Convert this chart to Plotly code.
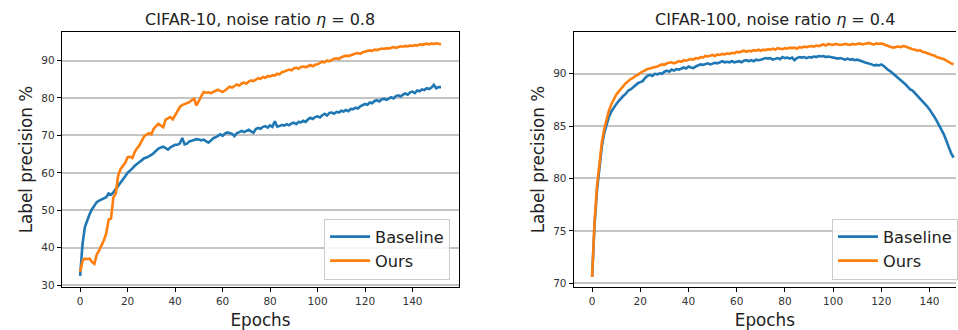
import plotly.graph_objects as go

# ---- label precision per epoch ----
cifar10_epochs = list(range(153))
cifar10_baseline = [
    32.5, 41.0, 45.5, 47.5, 49.0, 50.3, 51.3, 52.2, 52.6, 52.9,
    53.1, 53.5, 54.5, 54.2, 54.8, 55.6, 56.4, 57.3, 58.2, 59.1,
    60.0, 60.5, 61.2, 61.9, 62.5, 62.9, 63.4, 63.9, 64.1, 64.4,
    64.8, 65.3, 65.9, 66.5, 66.8, 67.0, 66.6, 66.2, 66.8, 67.2,
    67.5, 67.5, 67.9, 69.3, 67.6, 67.8, 68.4, 68.6, 68.9, 69.0,
    68.9, 68.7, 68.9, 68.4, 68.1, 68.6, 69.2, 69.5, 69.9, 70.3,
    69.9, 70.5, 70.8, 70.6, 70.4, 69.8, 70.6, 70.9, 71.2, 70.9,
    71.3, 71.5, 71.1, 70.7, 71.7, 72.0, 71.8, 72.3, 72.5, 72.1,
    72.7, 72.3, 73.8, 72.4, 72.5, 72.8, 72.6, 73.0, 72.7, 73.2,
    73.4, 73.0, 73.6, 73.5, 73.9, 73.6, 74.3, 74.7, 74.4, 74.9,
    75.1, 74.8, 75.4, 75.8, 75.3, 76.0, 76.1, 75.8, 76.3, 76.1,
    76.6, 76.4, 76.8, 76.5, 77.1, 77.0, 77.4, 77.2, 77.8, 78.1,
    78.4, 78.2, 78.8, 78.6, 79.2, 79.4, 79.1, 79.6, 79.8, 79.5,
    79.9, 80.2, 79.9, 80.5, 80.7, 80.4, 80.9, 81.2, 80.9, 81.5,
    81.7, 81.3, 82.0, 81.8, 82.3, 82.1, 82.6, 82.4, 82.8, 83.5,
    82.6, 82.9, 82.9,
]
cifar10_ours = [
    33.5, 36.5, 37.1, 37.0, 37.1, 36.2, 35.7, 38.2, 39.3, 40.5,
    42.0, 43.8, 47.5, 47.8, 53.5, 54.5, 59.2, 61.0, 61.8, 62.7,
    64.2, 64.3, 64.0, 65.6, 66.6, 67.4, 68.6, 69.8, 70.2, 70.6,
    70.3, 71.8, 72.5, 73.1, 72.6, 72.2, 74.2, 74.6, 74.9, 74.3,
    75.4, 76.5, 77.6, 78.1, 78.3, 78.5, 78.9, 79.4, 79.8, 78.0,
    79.2, 80.6, 81.6, 81.4, 81.5, 81.3, 81.6, 81.8, 82.2, 81.9,
    81.6, 82.0, 82.6, 83.0, 82.8, 83.2, 83.6, 83.3, 83.9, 84.1,
    83.8, 84.4, 84.7, 84.5, 84.9, 85.3, 85.1, 85.6, 85.4, 85.9,
    85.7, 86.1, 86.0, 86.5, 86.3, 86.9, 87.1, 87.3, 87.6, 87.4,
    87.9, 88.1, 87.8, 88.3, 88.4, 88.2, 88.6, 88.8, 88.5, 88.9,
    89.0, 89.4, 89.7, 89.5, 90.0, 89.8, 90.2, 90.5, 90.6, 90.4,
    90.9, 91.1, 91.3, 91.2, 91.5, 91.7, 91.9, 92.0, 91.8, 92.2,
    92.4, 92.5, 92.7, 92.6, 92.9, 92.8, 93.0, 93.2, 93.1, 93.3,
    93.2, 93.4, 93.6, 93.4, 93.6, 93.8, 93.7, 93.9, 93.8, 94.0,
    93.9, 94.1, 94.0, 94.3, 94.2, 94.4, 94.5, 94.3, 94.6, 94.4,
    94.6, 94.5, 94.3,
]

cifar100_epochs = list(range(151))
cifar100_baseline = [
    70.6, 75.5, 78.8, 81.2, 83.0, 84.3, 85.2, 85.9, 86.4, 86.8,
    87.1, 87.4, 87.7, 87.9, 88.1, 88.4, 88.5, 88.7, 88.9, 89.1,
    89.2, 89.3, 89.6, 89.8, 89.9, 89.8, 90.0, 89.95, 90.05, 90.0,
    90.2, 90.3, 90.2, 90.4, 90.3, 90.45, 90.4, 90.5, 90.6, 90.5,
    90.7, 90.6, 90.55, 90.7, 90.8, 90.9, 90.85, 90.9, 91.0, 90.9,
    91.0, 91.05, 91.0, 91.1, 91.2, 91.1, 91.15, 91.1, 91.2, 91.1,
    91.15, 91.2, 91.1, 91.25, 91.3, 91.2, 91.3, 91.2, 91.35, 91.3,
    91.35, 91.4, 91.5, 91.45, 91.5, 91.35, 91.45, 91.5, 91.4, 91.6,
    91.5, 91.55, 91.45, 91.55, 91.3, 91.5, 91.6, 91.55, 91.6, 91.5,
    91.6, 91.55, 91.65, 91.6, 91.7, 91.65, 91.7, 91.6, 91.65, 91.6,
    91.55, 91.5, 91.45, 91.5, 91.4, 91.35, 91.45, 91.35, 91.4, 91.3,
    91.35, 91.3, 91.2, 91.1, 91.05, 90.95, 90.9, 90.8, 90.85, 90.8,
    90.9, 90.75, 90.5, 90.35, 90.2, 90.0, 89.8, 89.6, 89.45, 89.2,
    89.0, 88.75, 88.5, 88.4, 88.15, 87.9, 87.75, 87.45, 87.2, 86.9,
    86.6, 86.3, 85.9, 85.5, 85.1, 84.7, 84.2, 83.6, 83.0, 82.4,
    82.0,
]
cifar100_ours = [
    70.6, 75.8, 79.2, 81.6, 83.4, 84.7, 85.6, 86.5, 87.1, 87.6,
    88.0, 88.3, 88.6, 88.8, 89.1, 89.3, 89.5, 89.6, 89.8, 89.9,
    90.1, 90.2, 90.35, 90.45, 90.5, 90.6, 90.65, 90.7, 90.8, 90.9,
    90.85, 91.0, 91.05, 91.1, 91.0, 91.1, 91.2, 91.15, 91.3, 91.25,
    91.35, 91.4, 91.35, 91.5, 91.45, 91.6, 91.55, 91.7, 91.65, 91.7,
    91.8, 91.7, 91.85, 91.8, 91.9, 91.85, 91.95, 91.9, 92.0, 91.95,
    92.1, 92.05, 92.1, 92.2, 92.1, 92.2, 92.15, 92.25, 92.2, 92.3,
    92.2, 92.3, 92.25, 92.35, 92.3, 92.4, 92.3, 92.45, 92.4, 92.35,
    92.45, 92.4, 92.5, 92.45, 92.5, 92.4, 92.55, 92.5, 92.6, 92.55,
    92.6, 92.65, 92.6, 92.7, 92.65, 92.75, 92.8, 92.7, 92.85, 92.8,
    92.75, 92.85, 92.8, 92.75, 92.8, 92.85, 92.8, 92.75, 92.85, 92.8,
    92.85, 92.9, 92.8, 92.85, 92.9, 92.95, 92.85, 92.8, 92.9, 92.85,
    92.9, 92.8, 92.7, 92.6, 92.55, 92.5, 92.55, 92.6, 92.55, 92.65,
    92.6, 92.5, 92.4, 92.35, 92.3, 92.2, 92.25, 92.1, 92.05, 92.0,
    91.9, 91.8, 91.75, 91.6, 91.55, 91.45, 91.4, 91.25, 91.1, 91.0,
    90.9,
]

panel_titles = ["CIFAR-10, noise ratio <i>η</i> = 0.8",
                "CIFAR-100, noise ratio <i>η</i> = 0.4"]
series_names = ["Baseline", "Ours"]
x_ticks = [0, 20, 40, 60, 80, 100, 120, 140]
y_ticks_left = [30, 40, 50, 60, 70, 80, 90]
y_ticks_right = [70, 75, 80, 85, 90]

BLUE = "#1f77b4"
ORANGE = "#ff7f0e"
FONT = "DejaVu Sans"
W, H = 958, 330

fig = go.Figure()

panels = [
    ("x", "y", "legend", cifar10_epochs, cifar10_baseline, cifar10_ours),
    ("x2", "y2", "legend2", cifar100_epochs, cifar100_baseline, cifar100_ours),
]
for xa, ya, lg, ep, base, ours in panels:
    for name, vals, col in zip(series_names, [base, ours], [BLUE, ORANGE]):
        fig.add_trace(go.Scatter(
            x=ep, y=vals, mode="lines", name=name,
            line=dict(color=col, width=2.6),
            xaxis=xa, yaxis=ya, legend=lg,
        ))

# axes placed by pixel boxes
def px_dom_x(a, b):
    return [a / W, min(b / W, 1.0)]

def px_dom_y(top, bottom):
    return [(H - bottom) / H, (H - top) / H]

axis_common = dict(
    showline=True, linecolor="black", linewidth=1.3,
    ticks="outside", ticklen=4, tickwidth=1.1, tickcolor="black",
    tickfont=dict(family=FONT, size=10.5, color="#333333"),
    zeroline=False,
)
label_font = dict(family=FONT, size=16.8, color="#222222")
legend_common = dict(
    y=(H - 283) / H, yanchor="bottom",
    bgcolor="rgba(255,255,255,0.85)", bordercolor="#cccccc", borderwidth=1,
    font=dict(family=FONT, size=16.2, color="#222222"),
    itemwidth=40,
)

fig.update_layout(
    width=W, height=H,
    margin=dict(l=0, r=0, t=0, b=0),
    paper_bgcolor="white", plot_bgcolor="white",
    font=dict(family=FONT, color="#222222"),
    xaxis=dict(domain=px_dom_x(62, 460), range=[-7.7, 159.6],
               tickvals=x_ticks, showgrid=False, mirror=True, anchor="y",
               title=dict(text="Epochs", font=label_font, standoff=9),
               **axis_common),
    yaxis=dict(domain=px_dom_y(32.3, 290.7), range=[29.47, 97.65],
               tickvals=y_ticks_left, showgrid=True, gridcolor="#c4c4c4", gridwidth=1.6,
               mirror=True, anchor="x",
               title=dict(text="Label precision %", font=label_font, standoff=4),
               **axis_common),
    xaxis2=dict(domain=px_dom_x(575, 958), range=[-7.6, 151.0],
                tickvals=x_ticks, showgrid=False, mirror=True, anchor="y2",
                title=dict(text="Epochs", font=label_font, standoff=9),
                **axis_common),
    yaxis2=dict(domain=px_dom_y(32.3, 290.7), range=[69.62, 94.0],
                tickvals=y_ticks_right, showgrid=True, gridcolor="#c4c4c4", gridwidth=1.6,
                mirror=False, anchor="x2",
                title=dict(text="Label precision %", font=label_font, standoff=4),
                **axis_common),
    legend=dict(x=451 / W, xanchor="right", **legend_common),
    legend2=dict(x=834 / W, xanchor="left", **legend_common),
    showlegend=True,
)

# panel titles
for txt, cx in zip(panel_titles, [261, 776.5]):
    fig.add_annotation(text=txt, x=cx / W, y=(H - 20) / H, xref="paper", yref="paper",
                       xanchor="center", yanchor="middle", showarrow=False,
                       font=dict(family=FONT, size=16, color="#222222"))

fig.write_html("out.html")
